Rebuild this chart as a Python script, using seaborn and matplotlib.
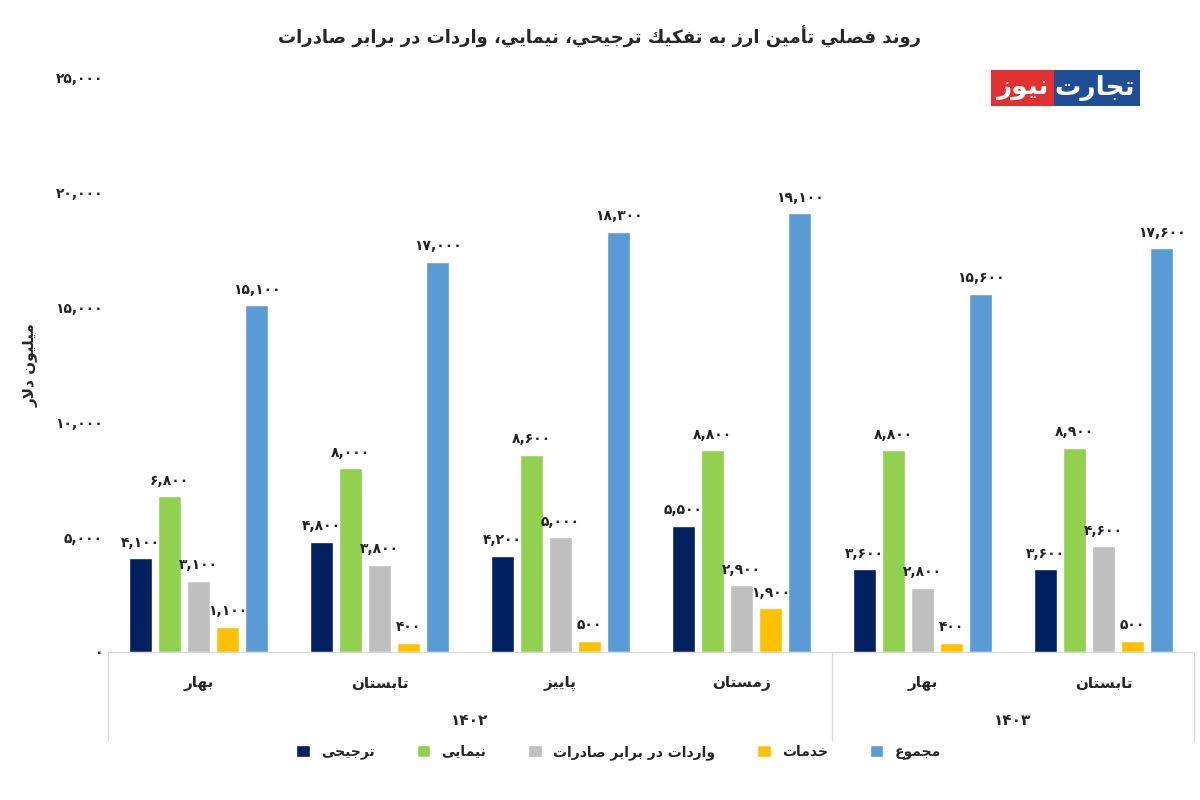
import pandas as pd
import matplotlib.pyplot as plt
import seaborn as sns

# ---- minimal Arabic/Persian shaping (matplotlib has no text shaping) ----
FORMS = {
    "ا": (0xFE8D, 0xFE8E, None, None), "أ": (0xFE83, 0xFE84, None, None),
    "د": (0xFEA9, 0xFEAA, None, None), "ذ": (0xFEAB, 0xFEAC, None, None),
    "ر": (0xFEAD, 0xFEAE, None, None), "ز": (0xFEAF, 0xFEB0, None, None),
    "و": (0xFEED, 0xFEEE, None, None), "ژ": (0xFB8A, 0xFB8B, None, None),
}
for ch, base in {"ب": 0xFE8F, "ت": 0xFE95, "ث": 0xFE99, "ج": 0xFE9D, "ح": 0xFEA1,
                 "خ": 0xFEA5, "س": 0xFEB1, "ش": 0xFEB5, "ص": 0xFEB9, "ض": 0xFEBD,
                 "ط": 0xFEC1, "ظ": 0xFEC5, "ع": 0xFEC9, "غ": 0xFECD, "ف": 0xFED1,
                 "ق": 0xFED5, "ك": 0xFED9, "ل": 0xFEDD, "م": 0xFEE1, "ن": 0xFEE5,
                 "ه": 0xFEE9, "ي": 0xFEF1, "پ": 0xFB56, "ی": 0xFBFC, "ک": 0xFB8E,
                 "گ": 0xFB92, "چ": 0xFB7A}.items():
    FORMS[ch] = (base, base + 1, base + 2, base + 3)


def fa(s):
    out = []
    i = 0
    n = len(s)
    while i < n:
        c = s[i]
        if c not in FORMS:
            out.append(c)
            i += 1
            continue
        prev = s[i - 1] if i > 0 else ""
        jp = prev in FORMS and FORMS[prev][2] is not None
        if c == "ل" and i + 1 < n and s[i + 1] == "ا":
            out.append(chr(0xFEFC if jp else 0xFEFB))
            i += 2
            continue
        nxt = s[i + 1] if i + 1 < n else ""
        jn = FORMS[c][2] is not None and nxt in FORMS
        f = FORMS[c]
        code = f[3] if (jp and jn) else f[1] if jp else f[2] if jn else f[0]
        out.append(chr(code))
        i += 1
    return "".join(reversed(out))


PDIG = str.maketrans("0123456789", "۰۱۲۳۴۵۶۷۸۹")


def pnum(v):
    return f"{int(v):,}".translate(PDIG)


# ---- data ----
seasons = ["بهار", "تابستان", "پاییز", "زمستان", "بهار", "تابستان"]
years = ["1402", "1403"]
series = ["ترجیحی", "نیمایی", "واردات در برابر صادرات", "خدمات", "مجموع"]
tarjihi = [4100, 4800, 4200, 5500, 3600, 3600]
nimayi = [6800, 8000, 8600, 8800, 8800, 8900]
varedat = [3100, 3800, 5000, 2900, 2800, 4600]
khadamat = [1100, 400, 500, 1900, 400, 500]
majmu = [15100, 17000, 18300, 19100, 15600, 17600]
colors = ["#002060", "#92D050", "#BFBFBF", "#FFC000", "#5B9BD5"]

rows = []
for s_name, vals in zip(series, [tarjihi, nimayi, varedat, khadamat, majmu]):
    for i, v in enumerate(vals):
        rows.append({"period": i, "series": fa(s_name), "value": v})
df = pd.DataFrame(rows)

sns.set_style("white")
plt.rcParams["font.family"] = ["DejaVu Sans"]

fig = plt.figure(figsize=(12, 8), dpi=100)
ax = fig.add_axes([0.09, 0.185, 0.905, 0.7175])
sns.barplot(data=df, x="period", y="value", hue="series", palette=colors,
            saturation=1, width=0.8, gap=0.2, ax=ax, legend=True)

for cont in ax.containers:
    ax.bar_label(cont, labels=[pnum(v) for v in cont.datavalues], padding=6,
                 fontsize=10, fontweight="bold", color="#222222")

ax.set_ylim(0, 25000)
ax.set_yticks(range(0, 25001, 5000))
ax.set_yticklabels([pnum(v) for v in range(0, 25001, 5000)], fontsize=10, fontweight="bold")
ax.set_xlim(-0.5, 5.5)
ax.set_xticks([])
ax.set_xlabel("")
ax.set_ylabel(fa("میلیون دلار"), fontsize=11, fontweight="bold", labelpad=12)
for sp in ["top", "right", "left"]:
    ax.spines[sp].set_visible(False)
ax.spines["bottom"].set_color("#D9D9D9")
ax.tick_params(axis="y", length=0)

# category table below axis
for i, s in enumerate(seasons):
    ax.text(i, -0.055, fa(s), transform=ax.get_xaxis_transform(), ha="center",
            va="center", fontsize=11, fontweight="bold")
ax.text(1.5, -0.12, years[0].translate(PDIG), transform=ax.get_xaxis_transform(),
        ha="center", va="center", fontsize=11, fontweight="bold")
ax.text(4.5, -0.12, years[1].translate(PDIG), transform=ax.get_xaxis_transform(),
        ha="center", va="center", fontsize=11, fontweight="bold")
for xv in [-0.5, 3.5, 5.5]:
    ax.plot([xv, xv], [0, -0.155], transform=ax.get_xaxis_transform(),
            color="#D9D9D9", lw=1, clip_on=False)

ax.legend(loc="upper center", bbox_to_anchor=(0.47, -0.14), ncol=5, frameon=False,
          fontsize=10, prop={"weight": "bold"}, handlelength=1.0, handleheight=1.0,
          columnspacing=3)

fig.text(0.5, 0.945, fa("روند فصلي تأمين ارز به تفكيك ترجيحي، نيمايي، واردات در برابر صادرات"),
         ha="center", fontsize=13, fontweight="bold")

# logo
fig.text(0.912, 0.89, fa("تجارت"), ha="center", va="center", fontsize=19, fontweight="bold",
         color="white", bbox=dict(boxstyle="square,pad=0.2", fc="#1F4E96", ec="none"))
fig.text(0.852, 0.89, fa("نيوز"), ha="center", va="center", fontsize=19, fontweight="bold",
         color="white", bbox=dict(boxstyle="square,pad=0.2", fc="#E03030", ec="none"))

plt.savefig("out.png", dpi=100)
